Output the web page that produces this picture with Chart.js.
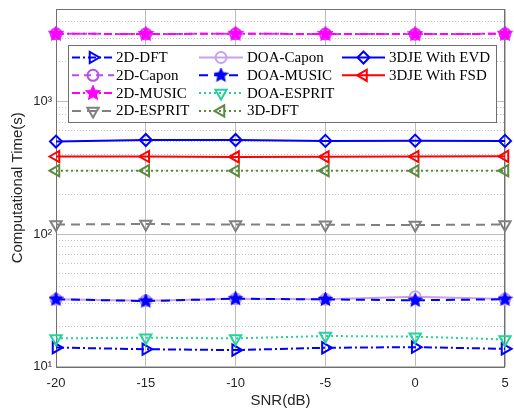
<!DOCTYPE html>
<html>
<head>
<meta charset="utf-8">
<script src="https://cdn.jsdelivr.net/npm/chart.js@4.4.1/dist/chart.umd.min.js"></script>
<style>
  body { margin: 0; background: #fff; }
  #wrap { width: 514px; height: 410px; }
</style>
</head>
<body>
<div id="wrap"><canvas id="timeChart" width="514" height="410"></canvas></div>
<script>
// SNR values on the x axis
const snrLabels = ['-20', '-15', '-10', '-5', '0', '5'];

// computational time in seconds
const dft2d     = [13.9, 13.5, 13.3, 13.85, 14.0, 13.6];
const capon2d   = [3250, 3240, 3250, 3240, 3230, 3250];
const music2d   = [3250, 3240, 3250, 3240, 3230, 3250];
const esprit2d  = [118, 119, 118, 117.5, 117, 118];
const doaCapon  = [32.2, 31.4, 32.5, 32.2, 33.6, 32.3];
const doaMusic  = [32.2, 31.2, 32.5, 32.1, 31.6, 32.2];
const doaEsprit = [16.3, 16.5, 16.3, 17.0, 16.8, 16.0];
const dft3d     = [301, 301, 300, 301, 300, 301];
const jeEvd     = [499, 513, 513, 505, 507, 505];
const jeFsd     = [385, 385, 382, 383, 385, 386];

// y axis decades that get a label
const decadeLabels = { 10: '10¹', 100: '10²', 1000: '10³' };

Chart.defaults.font.family = '"Liberation Sans", Arial, sans-serif';
Chart.defaults.color = '#262626';

function starMarker(color, r) {
    const c = document.createElement('canvas');
    const s = Math.ceil(r * 2 + 2);
    c.width = s; c.height = s;
    const g = c.getContext('2d');
    g.fillStyle = color;
    g.strokeStyle = color;
    g.lineWidth = 1.5;
    g.beginPath();
    for (let k = 0; k < 10; k++) {
        const rr = k % 2 ? r * 0.47 : r;
        const a = -Math.PI / 2 + k * Math.PI / 5;
        g.lineTo(s / 2 + rr * Math.cos(a), s / 2 + rr * Math.sin(a));
    }
    g.closePath();
    g.fill();
    g.stroke();
    return c;
}

function series(label, data, color, dash, marker, radius, rotation, fill) {
    return {
        label: label,
        data: data,
        borderColor: color,
        borderWidth: 2,
        borderDash: dash,
        pointStyle: marker,
        pointRadius: radius,
        pointRotation: rotation,
        pointBorderColor: color,
        pointBackgroundColor: fill || 'rgba(0,0,0,0)',
        pointBorderWidth: 2,
        tension: 0,
        clip: false
    };
}

const datasets = [
    series('2D-DFT', dft2d, '#0000ff', [8, 3, 2, 3], 'triangle', 6.5, 90),
    series('2D-Capon', capon2d, '#b94ee8', [7, 5], 'circle', 5.5, 0),
    series('2D-MUSIC', music2d, '#ff00ff', [8, 3, 2, 3], starMarker('#ff00ff', 7), 7, 0),
    series('2D-ESPRIT', esprit2d, '#808080', [9, 6], 'triangle', 6.5, 180),
    series('DOA-Capon', doaCapon, '#c9a0ec', [], 'circle', 5.5, 0),
    series('DOA-MUSIC', doaMusic, '#0000ff', [9, 6], starMarker('#0000ff', 6.5), 6.5, 0),
    series('DOA-ESPRIT', doaEsprit, '#22d39c', [2, 3], 'triangle', 6.5, 180),
    series('3D-DFT', dft3d, '#5b8a3c', [2, 3], 'triangle', 6.5, 270),
    series('3DJE With EVD', jeEvd, '#0000ff', [], 'rectRot', 6, 0),
    series('3DJE With FSD', jeFsd, '#ff0000', [], 'triangle', 6.5, 270)
];
// later series drawn on top, as in the original plot
datasets.forEach((d, i) => { d.order = datasets.length - i; });

const axesBox = {
    id: 'axesBox',
    beforeDatasetsDraw(chart) {
        const a = chart.chartArea;
        const ctx = chart.ctx;
        ctx.save();
        ctx.strokeStyle = '#707070';
        ctx.lineWidth = 1;
        ctx.strokeRect(Math.round(a.left) + 0.5, Math.round(a.top) + 0.5,
            Math.round(a.right - a.left) - 1, Math.round(a.bottom - a.top));
        ctx.restore();
    }
};

const boxLegend = {
    id: 'boxLegend',
    afterDatasetsDraw(chart) {
        const ctx = chart.ctx;
        const cols = [
            { from: 72, to: 114, text: 116 },
            { from: 199, to: 243, text: 247 },
            { from: 342, to: 385, text: 389 }
        ];
        ctx.save();
        ctx.fillStyle = '#ffffff';
        ctx.fillRect(68, 45, 428, 77);
        ctx.strokeStyle = '#6e6e6e';
        ctx.lineWidth = 1;
        ctx.strokeRect(68.5, 45.5, 428, 77);
        chart.data.datasets.forEach((ds, i) => {
            const c = i < 4 ? 0 : (i < 8 ? 1 : 2);
            const r = i < 4 ? i : (i < 8 ? i - 4 : i - 8);
            const col = cols[c];
            const y = 57.5 + r * 17.8;
            ctx.setLineDash(ds.borderDash || []);
            ctx.strokeStyle = ds.borderColor;
            ctx.lineWidth = ds.borderWidth;
            ctx.beginPath();
            ctx.moveTo(col.from, y);
            ctx.lineTo(col.to, y);
            ctx.stroke();
            ctx.setLineDash([]);
            ctx.strokeStyle = ds.pointBorderColor;
            ctx.fillStyle = ds.pointBackgroundColor;
            ctx.lineWidth = ds.pointBorderWidth;
            Chart.helpers.drawPoint(ctx, {
                pointStyle: ds.pointStyle,
                radius: ds.pointRadius,
                rotation: ds.pointRotation,
                borderWidth: ds.pointBorderWidth
            }, (col.from + col.to) / 2, y);
            ctx.fillStyle = '#000000';
            ctx.font = '15px "Liberation Serif", "Times New Roman", serif';
            ctx.textBaseline = 'middle';
            ctx.textAlign = 'left';
            ctx.fillText(ds.label, col.text, y + 0.5);
        });
        ctx.restore();
    }
};

new Chart(document.getElementById('timeChart'), {
    type: 'line',
    data: { labels: snrLabels, datasets: datasets },
    options: {
        responsive: false,
        animation: false,
        events: [],
        layout: { padding: { top: 9, right: 7, left: 0, bottom: 0 } },
        plugins: {
            legend: { display: false },
            tooltip: { enabled: false }
        },
        scales: {
            x: {
                type: 'category',
                offset: false,
                grid: { color: '#bdbdbd', lineWidth: 1, drawTicks: false },
                border: { display: false },
                ticks: { font: { size: 13 }, padding: 9, maxRotation: 0, autoSkip: false },
                title: { display: true, text: 'SNR(dB)', font: { size: 15 }, padding: { top: 0, bottom: 0 } },
                afterFit: function (scale) {
                    scale.height = 43.5;
                    scale.paddingLeft = 0;
                    scale.paddingRight = 0;
                }
            },
            y: {
                type: 'logarithmic',
                min: 10,
                max: 5000,
                grid: {
                    drawTicks: false,
                    lineWidth: 1,
                    color: function (context) {
                        const v = context.tick ? context.tick.value : 0;
                        if (decadeLabels[v]) return '#bdbdbd';
                        if (v === 150 || v === 1500) return 'rgba(0,0,0,0)';
                        return '#c4c4c4';
                    }
                },
                border: {
                    display: false,
                    dash: function (context) {
                        const v = context.tick ? context.tick.value : 0;
                        return decadeLabels[v] ? [] : [1, 2];
                    }
                },
                ticks: {
                    font: { size: 13 },
                    padding: 4,
                    autoSkip: false,
                    callback: function (value) { return decadeLabels[value] || ''; }
                },
                title: { display: true, text: 'Computational Time(s)', font: { size: 15 }, padding: { top: 9, bottom: 0 } },
                afterFit: function (scale) {
                    scale.width = 56;
                    scale.paddingTop = 0;
                    scale.paddingBottom = 0;
                }
            }
        }
    },
    plugins: [axesBox, boxLegend]
});
</script>
</body>
</html>
